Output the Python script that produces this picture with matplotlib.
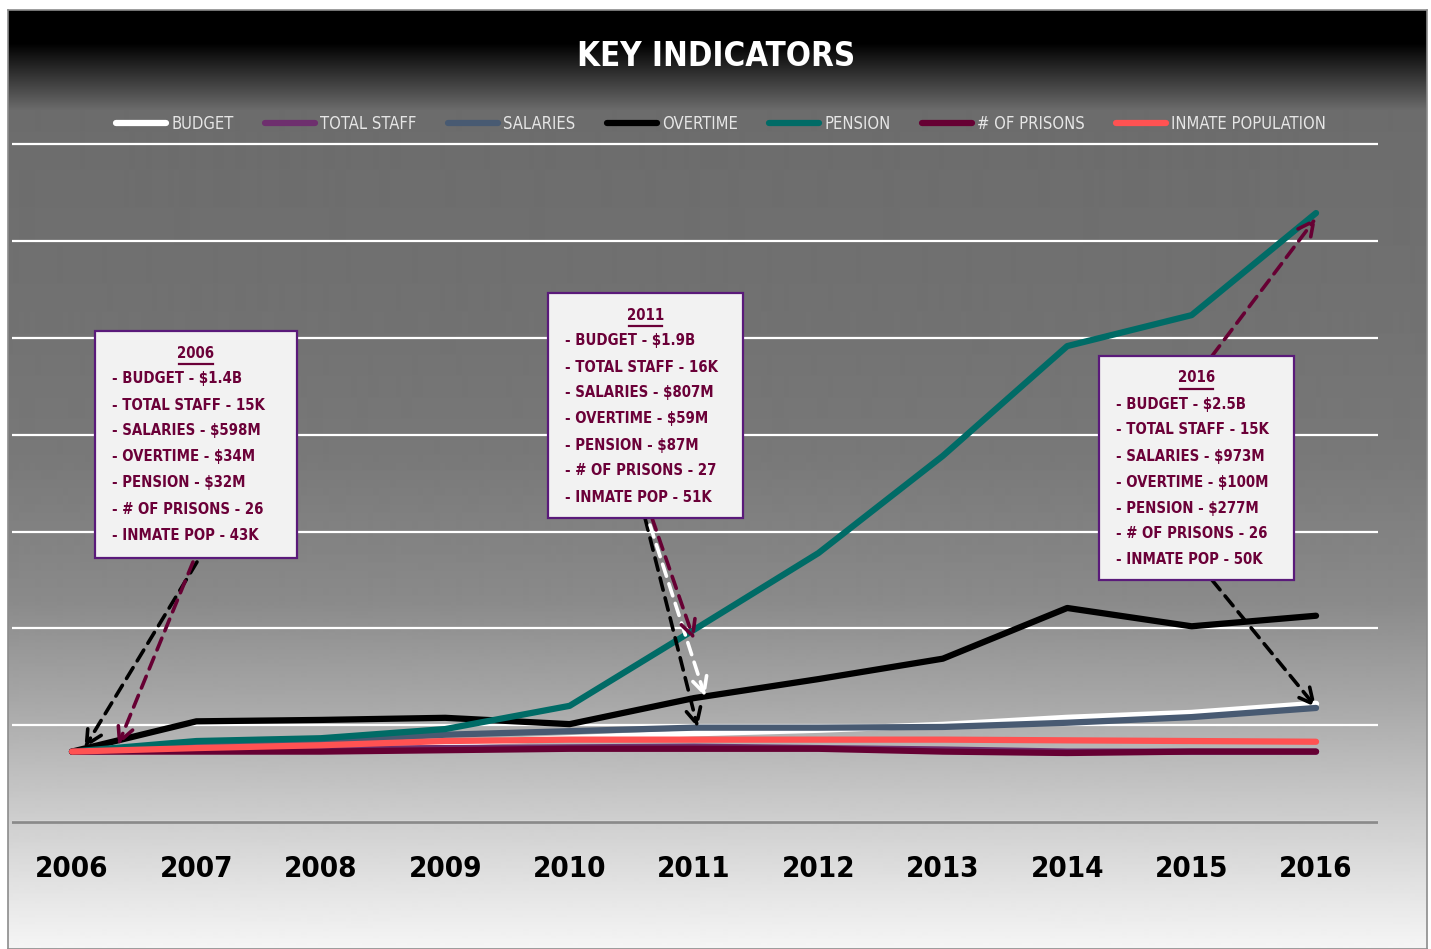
import matplotlib
matplotlib.use("Agg")
import matplotlib.pyplot as plt
import numpy as np
from matplotlib import font_manager
from matplotlib.font_manager import FontProperties
from matplotlib.textpath import TextPath
from matplotlib.patches import Rectangle
from matplotlib.lines import Line2D

# Values are indexed to 2006 (2006 = 1.0)
years = list(range(2006, 2017))
budget = [1.00, 1.05, 1.08, 1.12, 1.19, 1.26, 1.31, 1.38, 1.48, 1.55, 1.68]
total_staff = [1.00, 1.02, 1.04, 1.05, 1.06, 1.07, 1.05, 1.03, 1.00, 1.00, 1.00]
salaries = [1.00, 1.09, 1.15, 1.24, 1.29, 1.34, 1.34, 1.35, 1.41, 1.49, 1.62]
overtime = [1.00, 1.43, 1.45, 1.48, 1.39, 1.76, 2.03, 2.32, 3.04, 2.78, 2.93]
pension = [1.00, 1.15, 1.19, 1.32, 1.65, 2.73, 3.82, 5.20, 6.76, 7.20, 8.65]
prisons = [1.00, 1.00, 1.00, 1.02, 1.04, 1.04, 1.04, 1.00, 0.98, 1.00, 1.00]
inmates = [1.00, 1.05, 1.09, 1.15, 1.17, 1.17, 1.17, 1.17, 1.16, 1.15, 1.14]

names = ["BUDGET", "TOTAL STAFF", "SALARIES", "OVERTIME", "PENSION",
         "# OF PRISONS", "INMATE POPULATION"]
colors = ["#ffffff", "#6e2f6e", "#485a72", "#000000", "#006b66", "#660033", "#ff5252"]
series = [budget, total_staff, salaries, overtime, pension, prisons, inmates]

box_2006 = ["- BUDGET - $1.4B", "- TOTAL STAFF - 15K", "- SALARIES - $598M",
            "- OVERTIME - $34M", "- PENSION - $32M", "- # OF PRISONS - 26",
            "- INMATE POP - 43K"]
box_2011 = ["- BUDGET - $1.9B", "- TOTAL STAFF - 16K", "- SALARIES - $807M",
            "- OVERTIME - $59M", "- PENSION - $87M", "- # OF PRISONS - 27",
            "- INMATE POP - 51K"]
box_2016 = ["- BUDGET - $2.5B", "- TOTAL STAFF - 15K", "- SALARIES - $973M",
            "- OVERTIME - $100M", "- PENSION - $277M", "- # OF PRISONS - 26",
            "- INMATE POP - 50K"]

# look for the narrowest installed face (condensed if any)
STRETCH = {"ultra-condensed": 50, "extra-condensed": 62, "condensed": 75,
           "semi-condensed": 87, "normal": 100}
best = None
for f in font_manager.fontManager.ttflist:
    st = f.stretch
    num = STRETCH.get(st, 100) if isinstance(st, str) else st
    if num < 100 and best is None or (best is not None and num < best[0]):
        best = (num, f.name, st)
if best is not None and best[0] < 100:
    FAMILY, STR = best[1], best[2]
else:
    FAMILY, STR = "DejaVu Sans", "normal"

def fp(size, bold=True):
    return FontProperties(family=FAMILY, stretch=STR,
                          weight="bold" if bold else "normal", size=size)

def width_px(s, prop):
    tp = TextPath((0, 0), s, size=10, prop=prop)
    return tp.get_extents().width * 100 / 72

def fit(s, target, max_size, bold=True):
    w = width_px(s, fp(10, bold))
    return min(max_size, 10 * target / w)

W, H = 1431, 949
fig = plt.figure(figsize=(W / 100, H / 100), dpi=100)
fig.patch.set_facecolor("white")

def fx(px):
    return px / W

def fy(py):
    return 1 - py / H

# background gradient panel
bg = fig.add_axes([fx(8), 0, fx(1427) - fx(8), fy(10)])
stop_y = [10, 43, 110, 300, 450, 600, 700, 800, 900, 949]
stop_v = [0, 0, 108, 113, 120, 138, 167, 200, 231, 245]
rows = np.interp(np.arange(10, 949), stop_y, stop_v) / 255.0
bg.imshow(rows[:, None], aspect="auto", cmap="gray", vmin=0, vmax=1,
          extent=[0, 1, 0, 1], interpolation="bilinear")
bg.set_xticks([])
bg.set_yticks([])
for s in bg.spines.values():
    s.set_color("#8c8c8c")
    s.set_linewidth(1.2)

# main axes
ppu = 70.4  # pixels per unit
ymin, ymax = -0.05, 9.7
ax = fig.add_axes([fx(12), fy(822 + (-ymin) * ppu), fx(1378) - fx(12),
                   (ymax - ymin) * ppu / H])
ax.patch.set_alpha(0)
ax.set_xlim(2005.518, 2016.498)
ax.set_ylim(ymin, ymax)
ax.set_yticks(np.arange(8) * 1.375)
ax.set_yticklabels([])
ax.yaxis.grid(True, color="white", lw=1.6)
ax.set_axisbelow(True)
ax.axhline(0, color="#8a8a8a", lw=2, zorder=1)
for s in ax.spines.values():
    s.set_visible(False)

tick_size = fit("2006", 70, 30)
ax.tick_params(length=0, pad=21)
ax.set_xticks(years)
ax.set_xticklabels([str(y) for y in years], fontproperties=fp(tick_size),
                   color="black")

for name, col, vals in zip(names, colors, series):
    ax.plot(years, vals, color=col, lw=4.5, label=name,
            solid_capstyle="round", solid_joinstyle="round", zorder=3)

# title and legend
title_size = fit("KEY INDICATORS", 273, 35)
fig.text(fx(716), fy(56), "KEY INDICATORS", ha="center", va="center",
         fontproperties=fp(title_size), color="white")

leg_size = fit("INMATE POPULATION", 152, 17.5, bold=False)
em = leg_size * 100 / 72
leg = fig.legend(loc="center", bbox_to_anchor=(fx(721), fy(124)), ncol=7,
                 frameon=False, handlelength=50 / em, handletextpad=5 / em,
                 columnspacing=31.5 / em, prop=fp(leg_size, bold=False))
for t in leg.get_texts():
    t.set_color("#e6e6e6")
for h in leg.legend_handles:
    h.set_linewidth(4.5)

# annotation boxes
TXT = "#6b0038"
box_size = fit("- # OF PRISONS - 26", 150, 16)

def draw_box(x0, y0, w, h, title, lines):
    fig.add_artist(Rectangle((fx(x0), fy(y0 + h)), w / W, h / H,
                             transform=fig.transFigure, fc="#f2f2f2",
                             ec="#5a1a7a", lw=1.6, zorder=6))
    cx = x0 + w / 2
    fig.text(fx(cx), fy(y0 + 22), title, ha="center", va="center",
             fontproperties=fp(box_size), color=TXT, zorder=7)
    half = width_px(title, fp(box_size)) / 2
    fig.add_artist(Line2D([fx(cx - half), fx(cx + half)], [fy(y0 + 33), fy(y0 + 33)],
                          transform=fig.transFigure, color=TXT, lw=1.6, zorder=7))
    for i, line in enumerate(lines):
        fig.text(fx(x0 + 17), fy(y0 + 48 + 26 * i), line, ha="left", va="center",
                 fontproperties=fp(box_size), color=TXT, zorder=7)

draw_box(95, 331, 202, 227, "2006", box_2006)
draw_box(548, 293, 195, 225, "2011", box_2011)
draw_box(1099, 356, 195, 224, "2016", box_2016)

def arrow(head, tail_px, col):
    ax.annotate("", xy=head, xycoords="data",
                xytext=(fx(tail_px[0]), fy(tail_px[1])), textcoords="figure fraction",
                arrowprops=dict(arrowstyle="->", color=col, lw=2.6,
                                linestyle=(0, (3.5, 2.2)), mutation_scale=28,
                                shrinkA=0, shrinkB=0),
                annotation_clip=False, zorder=5)

arrow((2006.10, budget[0] + 0.05), (197, 562), "black")
arrow((2006.37, prisons[0] + 0.09), (193, 562), "#660033")
arrow((2011.03, salaries[5]), (645, 518), "black")
arrow((2011.09, overtime[5] + 0.02), (650, 525), "white")
arrow((2011.00, pension[5] - 0.14), (652, 518), "#660033")
arrow((2016.00, pension[10] - 0.07), (1212, 356), "#660033")
arrow((2016.00, salaries[10] + 0.01), (1212, 580), "black")

fig.savefig("out.png", dpi=100)
